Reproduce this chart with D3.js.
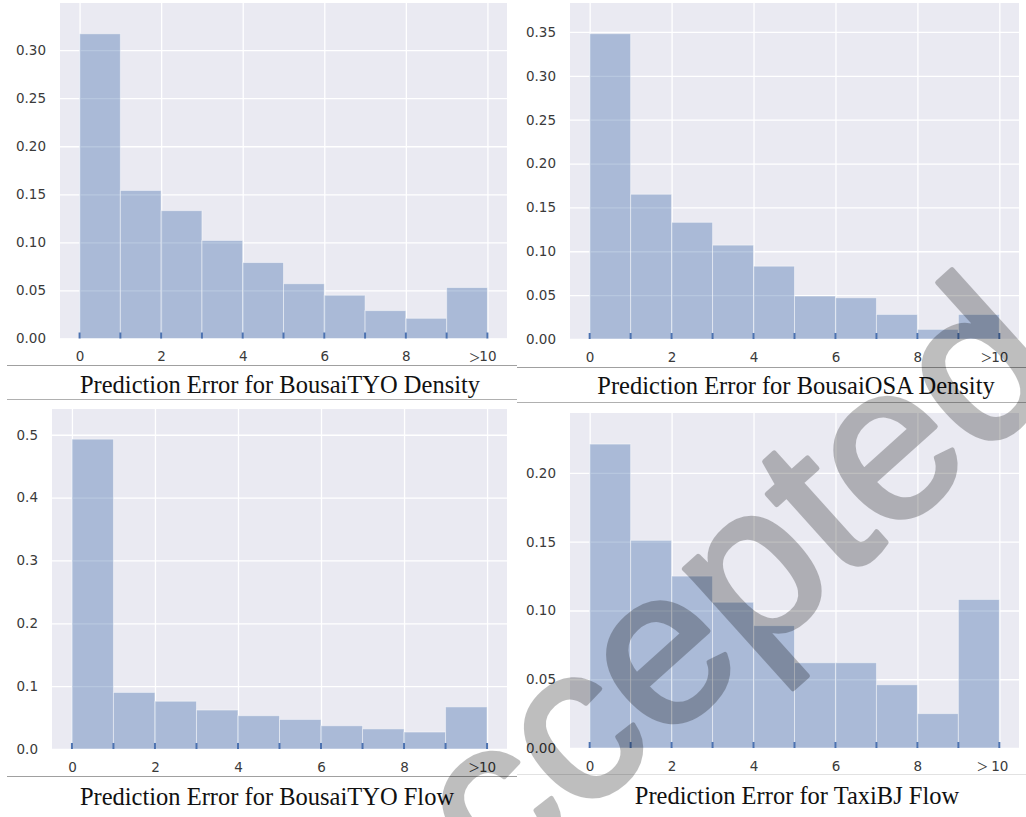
<!DOCTYPE html>
<html>
<head>
<meta charset="utf-8">
<script src="https://cdn.jsdelivr.net/npm/d3@7"></script>
<style>
  html, body { margin: 0; padding: 0; background: #fff; }
  svg { display: block; }
</style>
</head>
<body>
<svg id="fig" width="1026" height="817"></svg>
<script>
// Histogram bins: error ranges [k, k+1), last bin collects everything above 9
const binStarts = [0, 1, 2, 3, 4, 5, 6, 7, 8, 9];
const binEdges = [0, 1, 2, 3, 4, 5, 6, 7, 8, 9, 10];

// Share of grid cells falling in each error bin
const tyoDensity = [0.317, 0.154, 0.133, 0.102, 0.079, 0.057, 0.045, 0.029, 0.021, 0.053];
const osaDensity = [0.348, 0.165, 0.133, 0.107, 0.083, 0.049, 0.047, 0.028, 0.011, 0.028];
const tyoFlow    = [0.493, 0.090, 0.076, 0.062, 0.053, 0.047, 0.037, 0.032, 0.027, 0.067];
const bjFlow     = [0.221, 0.151, 0.125, 0.106, 0.089, 0.062, 0.062, 0.046, 0.025, 0.108];

const captions = [
  "Prediction Error for BousaiTYO Density",
  "Prediction Error for BousaiOSA Density",
  "Prediction Error for BousaiTYO Flow",
  "Prediction Error for TaxiBJ Flow"
];

// Axis ticks
const xTickValues = [0, 2, 4, 6, 8, 10];
const xTickLabels = ["0", "2", "4", "6", "8", "10"];
const yTicksA = [0, 0.05, 0.10, 0.15, 0.20, 0.25, 0.30];
const yTicksB = [0, 0.05, 0.10, 0.15, 0.20, 0.25, 0.30, 0.35];
const yTicksC = [0, 0.1, 0.2, 0.3, 0.4, 0.5];
const yTicksD = [0, 0.05, 0.10, 0.15, 0.20];

// Panel geometry
const panels = [
  { values: tyoDensity, caption: captions[0], yTicks: yTicksA, fmt: ".2f", yMax: 0.349,
    left: 60, right: 507, top: 3, bottom: 338.5, capX: 280, capY: 393, gtSpace: false },
  { values: osaDensity, caption: captions[1], yTicks: yTicksB, fmt: ".2f", yMax: 0.383,
    left: 570, right: 1019, top: 3, bottom: 339, capX: 796, capY: 394, gtSpace: false },
  { values: tyoFlow, caption: captions[2], yTicks: yTicksC, fmt: ".1f", yMax: 0.541,
    left: 52, right: 507, top: 409, bottom: 749, capX: 267, capY: 805, gtSpace: false },
  { values: bjFlow, caption: captions[3], yTicks: yTicksD, fmt: ".2f", yMax: 0.2436,
    left: 570, right: 1019, top: 413, bottom: 748, capX: 797, capY: 804, gtSpace: true }
];

const svg = d3.select("#fig");
const barBlue = "#4C72B0";

panels.forEach(p => {
  const x = d3.scaleLinear().domain([-0.48, 10.48]).range([p.left, p.right]);
  const y = d3.scaleLinear().domain([0, p.yMax]).range([p.bottom, p.top]);
  const g = svg.append("g");

  // axes background
  g.append("rect")
    .attr("x", p.left).attr("y", p.top)
    .attr("width", p.right - p.left).attr("height", p.bottom - p.top)
    .attr("fill", "#EAEAF2");

  // grid lines
  const gx = g.append("g").attr("transform", `translate(0,${p.bottom})`)
    .call(d3.axisBottom(x).tickValues(xTickValues).tickSize(-(p.bottom - p.top)).tickFormat(""));
  const gy = g.append("g").attr("transform", `translate(${p.left},0)`)
    .call(d3.axisLeft(y).tickValues(p.yTicks).tickSize(-(p.right - p.left)).tickFormat(""));
  [gx, gy].forEach(a => {
    a.select(".domain").remove();
    a.selectAll(".tick line").attr("stroke", "#fff").attr("stroke-width", 1.3);
  });

  // bars
  g.append("g").selectAll("rect")
    .data(p.values)
    .join("rect")
    .attr("x", (d, i) => x(binStarts[i]))
    .attr("width", (d, i) => x(binStarts[i] + 1) - x(binStarts[i]))
    .attr("y", d => y(d))
    .attr("height", d => y(0) - y(d))
    .attr("fill", barBlue).attr("fill-opacity", 0.4)
    .attr("stroke", "#fff").attr("stroke-opacity", 0.45).attr("stroke-width", 1);

  // rug ticks at the bin edges
  g.append("g").selectAll("line")
    .data(binEdges)
    .join("line")
    .attr("x1", d => x(d)).attr("x2", d => x(d))
    .attr("y1", y(0)).attr("y2", y(0) - 6)
    .attr("stroke", barBlue).attr("stroke-width", 2);

  // y tick labels
  const fmt = d3.format(p.fmt);
  g.append("g").attr("transform", `translate(${p.left},0)`)
    .call(d3.axisLeft(y).tickValues(p.yTicks).tickSize(0).tickPadding(14).tickFormat(fmt))
    .call(a => a.select(".domain").remove())
    .selectAll("text")
    .attr("font-family", "DejaVu Sans").attr("font-size", 13.5).attr("fill", "#3a3a3a");

  // x tick labels
  const xa = g.append("g").attr("transform", `translate(0,${p.bottom})`)
    .call(d3.axisBottom(x).tickValues(xTickValues).tickSize(0).tickPadding(13)
      .tickFormat((d, i) => xTickLabels[i]))
    .call(a => a.select(".domain").remove());
  xa.selectAll("text")
    .attr("font-family", "DejaVu Sans").attr("font-size", 13.5).attr("fill", "#3a3a3a");
  // open-ended last bin marker
  xa.selectAll(".tick").filter(d => d === 10)
    .append("text")
    .attr("x", p.gtSpace ? -12 : -8).attr("y", 12).attr("dy", "0.71em")
    .attr("text-anchor", "end")
    .attr("font-family", "Liberation Serif").attr("font-size", 19).attr("fill", "#3a3a3a")
    .text(">");

  // caption
  svg.append("text")
    .attr("x", p.capX).attr("y", p.capY)
    .attr("text-anchor", "middle")
    .attr("font-family", "Liberation Serif").attr("font-size", 24.5).attr("fill", "#111")
    .text(p.caption);
});

// caption cell borders
const borders = [
  { x1: 7, x2: 517, y: 365.5, c: "#a0a0a0" },
  { x1: 7, x2: 517, y: 399.5, c: "#b0b0b0" },
  { x1: 517, x2: 1026, y: 367.5, c: "#a0a0a0" },
  { x1: 517, x2: 1026, y: 402.5, c: "#b0b0b0" },
  { x1: 7, x2: 517, y: 776.5, c: "#a0a0a0" },
  { x1: 517, x2: 1026, y: 774.5, c: "#e2e2e2" }
];
svg.append("g").selectAll("line")
  .data(borders)
  .join("line")
  .attr("x1", d => d.x1).attr("x2", d => d.x2)
  .attr("y1", d => d.y).attr("y2", d => d.y)
  .attr("stroke", d => d.c).attr("stroke-width", 1);

// status stamp
svg.append("g").attr("opacity", 0.25)
  .append("text")
  .attr("transform", "translate(388,992) rotate(-42)")
  .attr("font-family", "Liberation Sans").attr("font-size", 220)
  .attr("fill", "#000").attr("stroke", "#000").attr("stroke-width", 5)
  .attr("stroke-linejoin", "round")
  .text("Accepted");
</script>
</body>
</html>
